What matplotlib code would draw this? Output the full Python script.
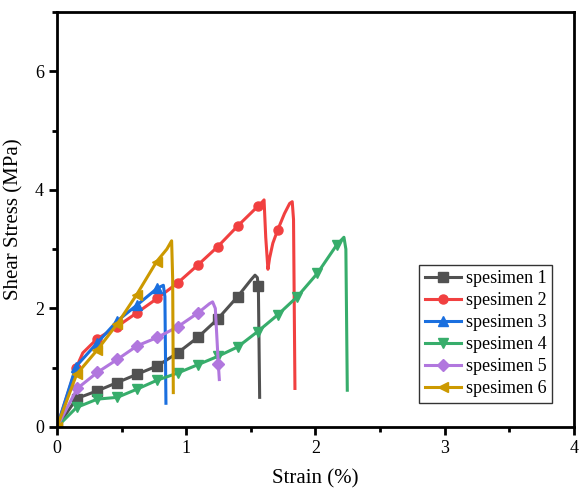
import matplotlib
matplotlib.use("Agg")
import matplotlib.pyplot as plt
from matplotlib.ticker import MultipleLocator

plt.rcParams['font.family'] = ['Liberation Serif', 'DejaVu Serif']

labels = ["spesimen 1", "spesimen 2", "spesimen 3", "spesimen 4", "spesimen 5", "spesimen 6"]
colors = ["#515151", "#F14040", "#1A6FDF", "#37AD6B", "#B177DE", "#CC9900"]
markers = ["s", "o", "^", "v", "D", "<"]

x1 = [0, 0.152, 0.312, 0.467, 0.62, 0.776, 0.934, 1.089, 1.243, 1.398, 1.50, 1.532, 1.55, 1.558, 1.568]
y1 = [0, 0.48, 0.61, 0.75, 0.89, 1.03, 1.25, 1.51, 1.82, 2.20, 2.48, 2.56, 2.52, 2.37, 0.50]
m1 = [0, 1, 2, 3, 4, 5, 6, 7, 8, 9, 13]

x2 = [0, 0.147, 0.20, 0.307, 0.462, 0.621, 0.776, 0.934, 1.089, 1.243, 1.398, 1.553, 1.59, 1.602,
      1.615, 1.632, 1.645, 1.67, 1.707, 1.76, 1.80, 1.82, 1.83, 1.841]
y2 = [0, 0.99, 1.25, 1.48, 1.69, 1.93, 2.17, 2.43, 2.73, 3.04, 3.39, 3.72, 3.80, 3.83,
      3.2, 2.66, 2.85, 3.1, 3.32, 3.60, 3.77, 3.80, 3.5, 0.65]
m2 = [0, 1, 3, 4, 5, 6, 7, 8, 9, 10, 11, 18]

x3 = [0, 0.147, 0.312, 0.467, 0.621, 0.776, 0.823, 0.835, 0.843]
y3 = [0, 1.02, 1.42, 1.79, 2.06, 2.34, 2.39, 2.2, 0.40]
m3 = [0, 1, 2, 3, 4, 5]

x4 = [0, 0.152, 0.312, 0.467, 0.621, 0.776, 0.934, 1.089, 1.243, 1.398, 1.553, 1.707, 1.86,
      2.014, 2.164, 2.22, 2.235, 2.246]
y4 = [0, 0.33, 0.47, 0.50, 0.64, 0.79, 0.91, 1.05, 1.19, 1.35, 1.61, 1.89, 2.20,
      2.59, 3.07, 3.20, 3.0, 0.62]
m4 = list(range(15))

x5 = [0, 0.157, 0.312, 0.467, 0.621, 0.776, 0.934, 1.089, 1.18, 1.204, 1.225, 1.248, 1.256]
y5 = [0, 0.65, 0.92, 1.14, 1.37, 1.51, 1.69, 1.92, 2.08, 2.11, 2.0, 1.07, 0.80]
m5 = [0, 1, 2, 3, 4, 5, 6, 7, 11]

x6 = [0, 0.152, 0.312, 0.467, 0.616, 0.771, 0.85, 0.887, 0.895, 0.90]
y6 = [0, 0.89, 1.30, 1.74, 2.23, 2.79, 3.0, 3.14, 2.5, 0.58]
m6 = [0, 1, 2, 3, 4, 5]

series = [(x1, y1, m1), (x2, y2, m2), (x3, y3, m3), (x4, y4, m4), (x5, y5, m5), (x6, y6, m6)]

fig = plt.figure(figsize=(5.79, 4.9), dpi=100)
ax = fig.add_axes([0.0984, 0.1286, 0.893, 0.847])

for (xs, ys, ms), lab, c, mk in zip(series, labels, colors, markers):
    ax.plot(xs, ys, color=c, lw=2.2, marker=mk, markevery=ms, markersize=6.5,
            label=lab, solid_joinstyle='round')

ax.set_xlim(0, 4)
ax.set_ylim(0, 7)
ax.xaxis.set_major_locator(MultipleLocator(1))
ax.xaxis.set_minor_locator(MultipleLocator(0.5))
ax.yaxis.set_major_locator(MultipleLocator(2))
ax.yaxis.set_minor_locator(MultipleLocator(1))
ax.tick_params(which='major', direction='out', length=6, width=2, labelsize=13,
               top=False, right=False)
ax.tick_params(which='minor', direction='out', length=3.5, width=2, top=False, right=False)
for sp in ax.spines.values():
    sp.set_linewidth(2)

ax.set_xlabel("Strain (%)", fontsize=15, labelpad=9)
ax.set_ylabel("Shear Stress (MPa)", fontsize=15, labelpad=8)

leg = ax.legend(loc='lower right', bbox_to_anchor=(0.958, 0.058), fontsize=13,
                frameon=True, fancybox=False, edgecolor='black', handlelength=2.0,
                borderpad=0.3, labelspacing=0.28, handletextpad=0.3, borderaxespad=0)
leg.get_frame().set_linewidth(1.0)

fig.savefig("out.png", dpi=100)
